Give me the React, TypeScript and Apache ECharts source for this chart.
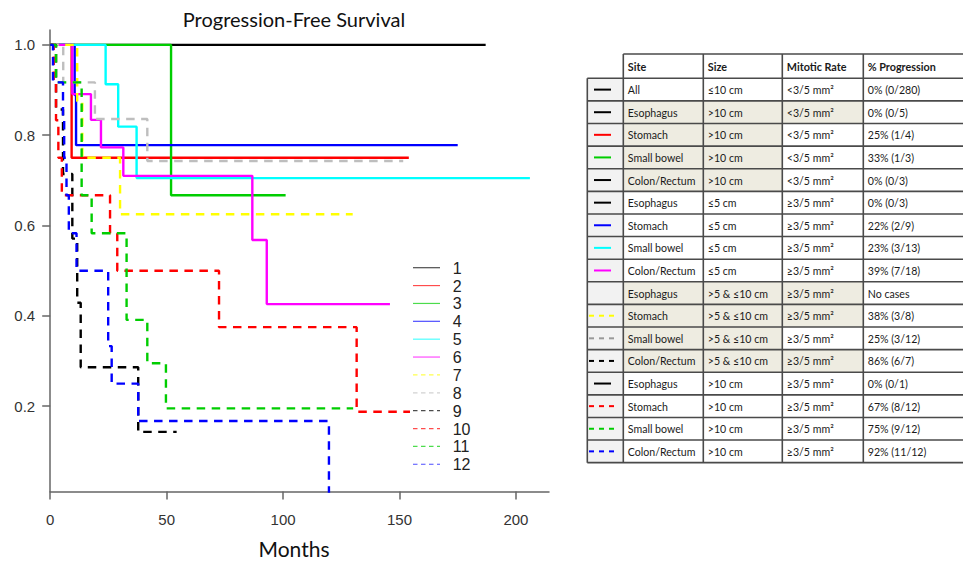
import React, { useEffect, useRef } from 'react';
import * as echarts from 'echarts';

// ---------- Kaplan-Meier curves (months, survival) ----------
const seriesNames = ['1', '2', '3', '4', '5', '6', '7', '8', '9', '10', '11', '12'];
const seriesColors = ['#000000', '#FF0000', '#00CD00', '#0000FF', '#00FFFF', '#FF00FF', '#FFFF00', '#BEBEBE', '#000000', '#FF0000', '#00CD00', '#0000FF'];
const seriesDashed = [false, false, false, false, false, false, true, true, true, true, true, true];

const months1 = [0, 187];
const survival1 = [1, 1];
const months2 = [0, 9.2, 154];
const survival2 = [1, 0.75, 0.75];
const months3 = [0, 51.9, 101.1];
const survival3 = [1, 0.667, 0.667];
const months4 = [0, 10.5, 11.1, 175];
const survival4 = [1, 0.889, 0.778, 0.778];
const months5 = [0, 23.8, 29.2, 37.1, 206];
const survival5 = [1, 0.913, 0.819, 0.705, 0.705];
const months6 = [0, 9.5, 17.5, 21.8, 31.4, 86.8, 93, 145.9];
const survival6 = [1, 0.891, 0.834, 0.773, 0.71, 0.568, 0.426, 0.426];
const months7 = [0, 11.6, 13.8, 30, 129.9];
const survival7 = [1, 0.875, 0.75, 0.625, 0.625];
const months8 = [0, 5.6, 19.2, 41.7, 151.6];
const survival8 = [1, 0.917, 0.836, 0.743, 0.743];
const months9 = [0, 2.5, 5.5, 9.5, 11.6, 13.1, 37.8, 54.3];
const survival9 = [1, 0.857, 0.714, 0.571, 0.429, 0.286, 0.143, 0.143];
const months10 = [0, 1.5, 2.5, 3.5, 5, 25.7, 28.8, 72.5, 131.6, 154.5];
const survival10 = [1, 0.917, 0.833, 0.75, 0.667, 0.583, 0.5, 0.375, 0.1875, 0.1875];
const months11 = [0, 2.5, 13.5, 17.8, 32.8, 41.7, 49.7, 130.1];
const survival11 = [1, 0.917, 0.667, 0.583, 0.391, 0.295, 0.195, 0.195];
const months12 = [0, 1.2, 5.5, 6, 7, 8, 11.3, 24.9, 26.4, 37.8, 119.7];
const survival12 = [1, 0.917, 0.833, 0.75, 0.667, 0.583, 0.5, 0.333, 0.25, 0.167, 0];

const seriesMonths = [months1, months2, months3, months4, months5, months6, months7, months8, months9, months10, months11, months12];
const seriesSurvival = [survival1, survival2, survival3, survival4, survival5, survival6, survival7, survival8, survival9, survival10, survival11, survival12];

const xTickValues = [0, 50, 100, 150, 200];
const yTickValues = [0.2, 0.4, 0.6, 0.8, 1.0];

// ---------- table ----------
const tableHeaders = ['Site', 'Size', 'Mitotic Rate', '% Progression'];
const tableSites = ['All', 'Esophagus', 'Stomach', 'Small bowel', 'Colon/Rectum', 'Esophagus', 'Stomach', 'Small bowel', 'Colon/Rectum', 'Esophagus', 'Stomach', 'Small bowel', 'Colon/Rectum', 'Esophagus', 'Stomach', 'Small bowel', 'Colon/Rectum'];
const tableSizes = ['≤10 cm', '>10 cm', '>10 cm', '>10 cm', '>10 cm', '≤5 cm', '≤5 cm', '≤5 cm', '≤5 cm', '>5 & ≤10 cm', '>5 & ≤10 cm', '>5 & ≤10 cm', '>5 & ≤10 cm', '>10 cm', '>10 cm', '>10 cm', '>10 cm'];
const tableRates = ['<3/5 mm²', '<3/5 mm²', '<3/5 mm²', '<3/5 mm²', '<3/5 mm²', '≥3/5 mm²', '≥3/5 mm²', '≥3/5 mm²', '≥3/5 mm²', '≥3/5 mm²', '≥3/5 mm²', '≥3/5 mm²', '≥3/5 mm²', '≥3/5 mm²', '≥3/5 mm²', '≥3/5 mm²', '≥3/5 mm²'];
const tableProgression = ['0% (0/280)', '0% (0/5)', '25% (1/4)', '33% (1/3)', '0% (0/3)', '0% (0/3)', '22% (2/9)', '23% (3/13)', '39% (7/18)', 'No cases', '38% (3/8)', '25% (3/12)', '86% (6/7)', '0% (0/1)', '67% (8/12)', '75% (9/12)', '92% (11/12)'];
const tableIconColors = ['#000000', '#000000', '#FF0000', '#00CD00', '#000000', '#000000', '#0000FF', '#00FFFF', '#FF00FF', '', '#FFFF00', '#999999', '#000000', '#000000', '#FF0000', '#00CD00', '#0000FF'];
const tableIconDashed = [false, false, false, false, false, false, false, false, false, false, true, true, true, false, true, true, true];
const shadeSiteSize = [false, true, true, true, true, false, false, false, false, true, true, true, true, false, false, false, false];
const shadeRate = [false, true, false, false, false, false, false, false, false, true, true, false, true, false, false, false, false];

function buildTable(): any[] {
  const els: any[] = [];
  const colX = [587.3, 623.3, 703.3, 782.3, 863.3, 966];
  const headTop = 54;
  const bodyTop = 78.3;
  const rowH = 22.61;
  const n = tableSites.length;
  const bottom = bodyTop + n * rowH;
  const font = '10.6px Lato, "DejaVu Sans", sans-serif';
  const boldFont = 'bold 10.8px Lato, "DejaVu Sans", sans-serif';
  const txtColor = '#1a1a1a';
  const beige = '#EEECE1';
  for (let r = 0; r < n; r++) {
    const y0 = bodyTop + r * rowH;
    const cy = y0 + rowH / 2 + 0.5;
    els.push({ type: 'rect', z: 1, shape: { x: colX[0], y: y0, width: colX[1] - colX[0], height: rowH }, style: { fill: '#F2F2F2' } });
    if (shadeSiteSize[r]) {
      els.push({ type: 'rect', z: 1, shape: { x: colX[1], y: y0, width: colX[3] - colX[1], height: rowH }, style: { fill: beige } });
    }
    if (shadeRate[r]) {
      els.push({ type: 'rect', z: 1, shape: { x: colX[3], y: y0, width: colX[4] - colX[3], height: rowH }, style: { fill: beige } });
    }
    const c = tableIconColors[r];
    if (c) {
      if (tableIconDashed[r]) {
        for (let k = 0; k < 3; k++) {
          els.push({ type: 'line', z: 3, shape: { x1: 589 + k * 10, y1: cy - 0.5, x2: 594 + k * 10, y2: cy - 0.5 }, style: { stroke: c, lineWidth: 2 } });
        }
      } else {
        els.push({ type: 'line', z: 3, shape: { x1: 594, y1: cy - 0.5, x2: 611, y2: cy - 0.5 }, style: { stroke: c, lineWidth: 2 } });
      }
    }
    const vals = [tableSites[r], tableSizes[r], tableRates[r], tableProgression[r]];
    for (let k = 0; k < 4; k++) {
      els.push({
        type: 'text', z: 4,
        style: { text: vals[k], x: colX[k + 1] + 4.5, y: cy, font, fill: txtColor, textAlign: 'left', textVerticalAlign: 'middle', align: 'left', verticalAlign: 'middle' },
      });
    }
  }
  for (let k = 0; k < 4; k++) {
    els.push({
      type: 'text', z: 4,
      style: { text: tableHeaders[k], x: colX[k + 1] + 4.5, y: (headTop + bodyTop) / 2 + 0.5, font: boldFont, fill: txtColor, textAlign: 'left', textVerticalAlign: 'middle', align: 'left', verticalAlign: 'middle' },
    });
  }
  const lineStyle = { stroke: '#4a4a4a', lineWidth: 1.6 };
  els.push({ type: 'line', z: 2, shape: { x1: colX[1], y1: headTop, x2: colX[5], y2: headTop }, style: lineStyle });
  for (let r = 0; r <= n; r++) {
    const y = bodyTop + r * rowH;
    els.push({ type: 'line', z: 2, shape: { x1: colX[0], y1: y, x2: colX[5], y2: y }, style: lineStyle });
  }
  els.push({ type: 'line', z: 2, shape: { x1: colX[0], y1: bodyTop, x2: colX[0], y2: bottom }, style: lineStyle });
  for (let k = 1; k < 5; k++) {
    els.push({ type: 'line', z: 2, shape: { x1: colX[k], y1: headTop, x2: colX[k], y2: bottom }, style: lineStyle });
  }
  return els;
}

function buildLegend(): any[] {
  const els: any[] = [];
  const top = 267.7;
  const step = 17.87;
  seriesNames.forEach((nm, i) => {
    const y = top + i * step;
    els.push({
      type: 'line', z: 10,
      shape: { x1: 413, y1: y, x2: 440, y2: y },
      style: { stroke: seriesColors[i], lineWidth: 1.2, opacity: 0.7, lineDash: seriesDashed[i] ? [4.5, 3.5] : null },
    });
    els.push({
      type: 'text', z: 10,
      style: { text: nm, x: 452.7, y: y + 0.5, font: '16px "Liberation Sans", Arial, sans-serif', fill: '#222', textAlign: 'left', textVerticalAlign: 'middle', align: 'left', verticalAlign: 'middle' },
    });
  });
  return els;
}

export default function App() {
  const ref = useRef<HTMLDivElement>(null);
  useEffect(() => {
    if (!ref.current) return;
    const chart = echarts.init(ref.current, undefined, { renderer: 'svg', width: 963, height: 564 });
    const axisColor = '#666666';
    const labelFont = '"Liberation Sans", Arial, sans-serif';
    const option: any = {
      animation: false,
      backgroundColor: '#ffffff',
      grid: { left: 50.2, top: 30, width: 498.8, height: 461.5 },
      xAxis: {
        type: 'value', min: 0, max: 214.2,
        axisLine: { show: true, lineStyle: { color: axisColor, width: 1.5 } },
        axisTick: { show: true, length: 8, customValues: xTickValues, lineStyle: { color: axisColor, width: 1.5 } },
        axisLabel: { customValues: xTickValues, fontSize: 15, color: '#333', fontFamily: labelFont, margin: 20 },
        splitLine: { show: false },
      },
      yAxis: {
        type: 'value', min: 0.011, max: 1.033,
        axisLine: { show: true, lineStyle: { color: axisColor, width: 1.5 } },
        axisTick: { show: true, length: 8, customValues: yTickValues, lineStyle: { color: axisColor, width: 1.5 } },
        axisLabel: { customValues: yTickValues, fontSize: 15, color: '#333', fontFamily: labelFont, margin: 15, formatter: (v: number) => v.toFixed(1) },
        splitLine: { show: false },
      },
      series: seriesNames.map((nm, i) => ({
        name: nm,
        type: 'line',
        step: 'end',
        symbol: 'none',
        showSymbol: false,
        clip: true,
        color: seriesColors[i],
        lineStyle: { color: seriesColors[i], width: 2.4, type: seriesDashed[i] ? [8.5, 6.5] : 'solid' },
        data: seriesMonths[i].map((m, j) => [m, seriesSurvival[i][j]]),
      })),
      graphic: [
        {
          type: 'text', z: 10,
          style: { text: 'Progression-Free Survival', x: 294, y: 18.5, font: '20px Lato, sans-serif', fill: '#111', textAlign: 'center', textVerticalAlign: 'middle', align: 'center', verticalAlign: 'middle' },
        },
        {
          type: 'text', z: 10,
          style: { text: 'Months', x: 294, y: 548.5, font: '21px Lato, sans-serif', fill: '#111', textAlign: 'center', textVerticalAlign: 'middle', align: 'center', verticalAlign: 'middle' },
        },
        ...buildLegend(),
        ...buildTable(),
      ],
    };
    chart.setOption(option);
    return () => chart.dispose();
  }, []);
  return <div ref={ref} style={{ position: 'absolute', left: 0, top: 0, width: 963, height: 564 }} />;
}
